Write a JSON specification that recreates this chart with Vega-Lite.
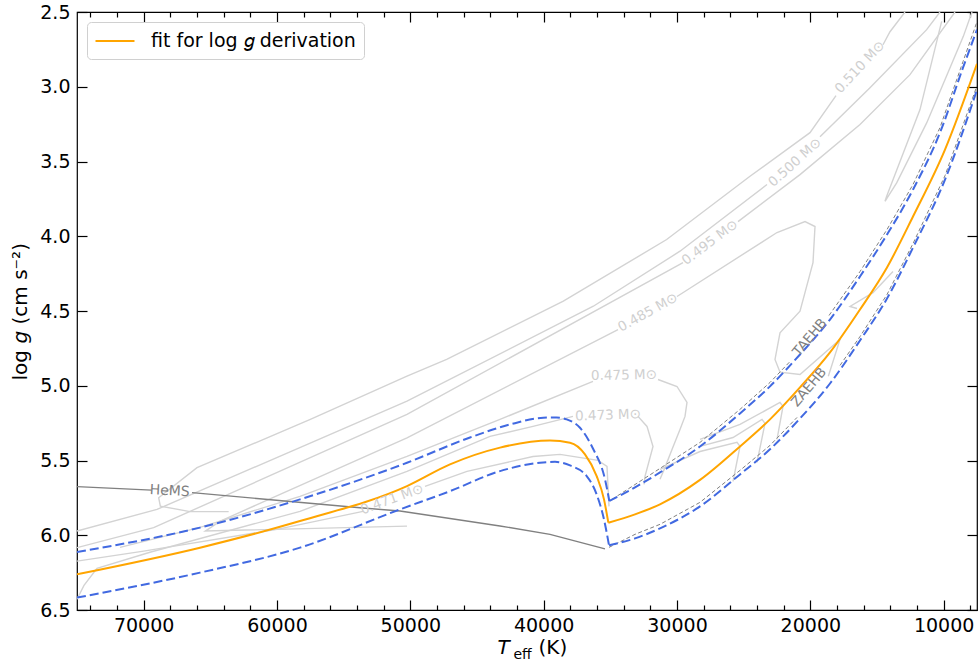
{
  "$schema": "https://vega.github.io/schema/vega-lite/v6.json",
  "width": 900,
  "height": 598,
  "autosize": {"type": "none"},
  "padding": {"left": 77, "top": 12, "right": 1, "bottom": 58},
  "background": "white",
  "config": {
    "font": "DejaVu Sans",
    "view": {"stroke": "black", "strokeWidth": 1.2},
    "axis": {"grid": false, "domain": false, "tickColor": "black", "tickWidth": 1.2, "labelColor": "black", "titleColor": "black", "labelFont": "DejaVu Sans", "titleFont": "DejaVu Sans", "labelFontSize": 19, "titleFontSize": 20, "titleFontWeight": "normal", "labelOverlap": false, "labelFlush": false}
  },
  "datasets": {
    "tracks": [
      {"seg": "510a", "Teff": 63625, "logg": 5.842}, {"seg": "510a", "Teff": 66525, "logg": 5.842}, {"seg": "510a", "Teff": 68750, "logg": 5.805}, {"seg": "510a", "Teff": 68875, "logg": 5.749}, {"seg": "510a", "Teff": 66000, "logg": 5.548}, {"seg": "510a", "Teff": 57500, "logg": 5.225}, {"seg": "510a", "Teff": 50250, "logg": 4.936}, {"seg": "510a", "Teff": 47275, "logg": 4.824}, {"seg": "510a", "Teff": 38525, "logg": 4.434}, {"seg": "510a", "Teff": 30775, "logg": 4.022}, {"seg": "510a", "Teff": 24525, "logg": 3.599}, {"seg": "510a", "Teff": 20025, "logg": 3.307}, {"seg": "510a", "Teff": 18075, "logg": 3.059},
      {"seg": "510b", "Teff": 14550, "logg": 2.719}, {"seg": "510b", "Teff": 14025, "logg": 2.632}, {"seg": "510b", "Teff": 12900, "logg": 2.5},
      {"seg": "500a", "Teff": 75000, "logg": 5.972}, {"seg": "500a", "Teff": 69000, "logg": 5.827}, {"seg": "500a", "Teff": 50250, "logg": 5.103}, {"seg": "500a", "Teff": 36275, "logg": 4.468}, {"seg": "500a", "Teff": 29775, "logg": 4.1}, {"seg": "500a", "Teff": 23250, "logg": 3.654},
      {"seg": "500b", "Teff": 19275, "logg": 3.334}, {"seg": "500b", "Teff": 15525, "logg": 3.006}, {"seg": "500b", "Teff": 11275, "logg": 2.618}, {"seg": "500b", "Teff": 10275, "logg": 2.5},
      {"seg": "495a", "Teff": 75000, "logg": 6.083}, {"seg": "495a", "Teff": 69250, "logg": 5.949}, {"seg": "495a", "Teff": 50250, "logg": 5.192}, {"seg": "495a", "Teff": 29550, "logg": 4.176},
      {"seg": "495b", "Teff": 25425, "logg": 3.902}, {"seg": "495b", "Teff": 20775, "logg": 3.588}, {"seg": "495b", "Teff": 16275, "logg": 3.253}, {"seg": "495b", "Teff": 12525, "logg": 2.919}, {"seg": "495b", "Teff": 9150, "logg": 2.5},
      {"seg": "485a", "Teff": 18650, "logg": 4.936}, {"seg": "485a", "Teff": 17775, "logg": 4.691}, {"seg": "485a", "Teff": 20775, "logg": 4.925}, {"seg": "485a", "Teff": 22275, "logg": 4.909}, {"seg": "485a", "Teff": 22650, "logg": 4.824}, {"seg": "485a", "Teff": 22275, "logg": 4.646}, {"seg": "485a", "Teff": 20775, "logg": 4.501}, {"seg": "485a", "Teff": 19800, "logg": 4.176}, {"seg": "485a", "Teff": 19650, "logg": 3.935}, {"seg": "485a", "Teff": 20400, "logg": 3.902}, {"seg": "485a", "Teff": 22500, "logg": 3.975}, {"seg": "485a", "Teff": 30000, "logg": 4.403},
      {"seg": "485b", "Teff": 34425, "logg": 4.624}, {"seg": "485b", "Teff": 50250, "logg": 5.348}, {"seg": "485b", "Teff": 64250, "logg": 5.905}, {"seg": "485b", "Teff": 65375, "logg": 5.972}, {"seg": "485b", "Teff": 50250, "logg": 5.939},
      {"seg": "475a", "Teff": 71775, "logg": 6.081}, {"seg": "475a", "Teff": 65775, "logg": 5.947}, {"seg": "475a", "Teff": 58275, "logg": 5.74}, {"seg": "475a", "Teff": 50250, "logg": 5.473}, {"seg": "475a", "Teff": 43275, "logg": 5.225}, {"seg": "475a", "Teff": 36300, "logg": 4.971},
      {"seg": "475b", "Teff": 31425, "logg": 4.958}, {"seg": "475b", "Teff": 30000, "logg": 5.005}, {"seg": "475b", "Teff": 29250, "logg": 5.111}, {"seg": "475b", "Teff": 29400, "logg": 5.205}, {"seg": "475b", "Teff": 29775, "logg": 5.292}, {"seg": "475b", "Teff": 30375, "logg": 5.426}, {"seg": "475b", "Teff": 30900, "logg": 5.546}, {"seg": "475b", "Teff": 31275, "logg": 5.626},
      {"seg": "473a", "Teff": 75000, "logg": 6.428}, {"seg": "473a", "Teff": 74475, "logg": 6.335}, {"seg": "473a", "Teff": 73500, "logg": 6.221}, {"seg": "473a", "Teff": 69525, "logg": 6.114}, {"seg": "473a", "Teff": 58275, "logg": 5.84}, {"seg": "473a", "Teff": 50250, "logg": 5.573}, {"seg": "473a", "Teff": 44025, "logg": 5.339}, {"seg": "473a", "Teff": 40800, "logg": 5.272}, {"seg": "473a", "Teff": 37800, "logg": 5.205},
      {"seg": "473b", "Teff": 32925, "logg": 5.205}, {"seg": "473b", "Teff": 32250, "logg": 5.272}, {"seg": "473b", "Teff": 31800, "logg": 5.406}, {"seg": "473b", "Teff": 32400, "logg": 5.606}, {"seg": "473b", "Teff": 32475, "logg": 5.66},
      {"seg": "471a", "Teff": 75000, "logg": 6.173}, {"seg": "471a", "Teff": 70000, "logg": 6.106}, {"seg": "471a", "Teff": 60000, "logg": 5.961}, {"seg": "471a", "Teff": 53550, "logg": 5.84},
      {"seg": "471b", "Teff": 48900, "logg": 5.673}, {"seg": "471b", "Teff": 45750, "logg": 5.573}, {"seg": "471b", "Teff": 40800, "logg": 5.473}, {"seg": "471b", "Teff": 38775, "logg": 5.459}, {"seg": "471b", "Teff": 35925, "logg": 5.499}, {"seg": "471b", "Teff": 35250, "logg": 5.54}, {"seg": "471b", "Teff": 35100, "logg": 5.807},
      {"seg": "loop", "Teff": 10150, "logg": 2.563}, {"seg": "loop", "Teff": 11775, "logg": 3.153}, {"seg": "loop", "Teff": 14275, "logg": 3.733}, {"seg": "loop", "Teff": 14400, "logg": 3.766}, {"seg": "loop", "Teff": 13525, "logg": 3.643}, {"seg": "loop", "Teff": 11275, "logg": 3.242}, {"seg": "loop", "Teff": 8525, "logg": 2.663}, {"seg": "loop", "Teff": 7875, "logg": 2.5},
      {"seg": "h1", "Teff": 25800, "logg": 5.64}, {"seg": "h1", "Teff": 25275, "logg": 5.406}, {"seg": "h1", "Teff": 25500, "logg": 5.379}, {"seg": "h1", "Teff": 28275, "logg": 5.44}, {"seg": "h1", "Teff": 31275, "logg": 5.559},
      {"seg": "h2", "Teff": 24000, "logg": 5.513}, {"seg": "h2", "Teff": 23400, "logg": 5.252}, {"seg": "h2", "Teff": 23625, "logg": 5.225}, {"seg": "h2", "Teff": 25800, "logg": 5.346}, {"seg": "h2", "Teff": 28275, "logg": 5.406},
      {"seg": "h3", "Teff": 22500, "logg": 5.359}, {"seg": "h3", "Teff": 22050, "logg": 5.138}, {"seg": "h3", "Teff": 22275, "logg": 5.112}, {"seg": "h3", "Teff": 25275, "logg": 5.259}, {"seg": "h3", "Teff": 28275, "logg": 5.359},
      {"seg": "h4", "Teff": 13800, "logg": 4.236}, {"seg": "h4", "Teff": 15300, "logg": 4.377}, {"seg": "h4", "Teff": 17025, "logg": 4.47}, {"seg": "h4", "Teff": 16500, "logg": 4.483}
    ],
    "hems": [
      {"seg": "a", "Teff": 75000, "logg": 5.675}, {"seg": "a", "Teff": 69400, "logg": 5.698},
      {"seg": "b", "Teff": 66375, "logg": 5.715}, {"seg": "b", "Teff": 53775, "logg": 5.816}, {"seg": "b", "Teff": 50775, "logg": 5.838}, {"seg": "b", "Teff": 43275, "logg": 5.938}, {"seg": "b", "Teff": 39525, "logg": 5.994}, {"seg": "b", "Teff": 35400, "logg": 6.091}
    ],
    "ehb": [
      {"seg": "TAEHBa", "Teff": 34875, "logg": 5.76}, {"seg": "TAEHBa", "Teff": 31275, "logg": 5.553}, {"seg": "TAEHBa", "Teff": 28275, "logg": 5.379}, {"seg": "TAEHBa", "Teff": 25275, "logg": 5.158}, {"seg": "TAEHBa", "Teff": 23025, "logg": 4.978}, {"seg": "TAEHBa", "Teff": 21450, "logg": 4.831},
      {"seg": "TAEHBb", "Teff": 18600, "logg": 4.53}, {"seg": "TAEHBb", "Teff": 16275, "logg": 4.236}, {"seg": "TAEHBb", "Teff": 14250, "logg": 3.955}, {"seg": "TAEHBb", "Teff": 12300, "logg": 3.654}, {"seg": "TAEHBb", "Teff": 10275, "logg": 3.273}, {"seg": "TAEHBb", "Teff": 8550, "logg": 2.832}, {"seg": "TAEHBb", "Teff": 7500, "logg": 2.565},
      {"seg": "ZAEHBa", "Teff": 35100, "logg": 6.081}, {"seg": "ZAEHBa", "Teff": 33150, "logg": 5.994}, {"seg": "ZAEHBa", "Teff": 31275, "logg": 5.927}, {"seg": "ZAEHBa", "Teff": 28275, "logg": 5.78}, {"seg": "ZAEHBa", "Teff": 25275, "logg": 5.566}, {"seg": "ZAEHBa", "Teff": 23025, "logg": 5.399}, {"seg": "ZAEHBa", "Teff": 21000, "logg": 5.212},
      {"seg": "ZAEHBb", "Teff": 17775, "logg": 4.864}, {"seg": "ZAEHBb", "Teff": 16275, "logg": 4.671}, {"seg": "ZAEHBb", "Teff": 14250, "logg": 4.39}, {"seg": "ZAEHBb", "Teff": 12300, "logg": 4.049}, {"seg": "ZAEHBb", "Teff": 9900, "logg": 3.595}, {"seg": "ZAEHBb", "Teff": 7500, "logg": 2.993}
    ],
    "bounds": [
      {"seg": "upperL", "Teff": 75000, "logg": 6.112}, {"seg": "upperL", "Teff": 65775, "logg": 5.949}, {"seg": "upperL", "Teff": 58275, "logg": 5.76}, {"seg": "upperL", "Teff": 50250, "logg": 5.515}, {"seg": "upperL", "Teff": 45525, "logg": 5.346}, {"seg": "upperL", "Teff": 42525, "logg": 5.259}, {"seg": "upperL", "Teff": 40025, "logg": 5.214}, {"seg": "upperL", "Teff": 39025, "logg": 5.212}, {"seg": "upperL", "Teff": 38275, "logg": 5.225}, {"seg": "upperL", "Teff": 37275, "logg": 5.281}, {"seg": "upperL", "Teff": 36275, "logg": 5.425}, {"seg": "upperL", "Teff": 35400, "logg": 5.626}, {"seg": "upperL", "Teff": 35075, "logg": 5.771},
      {"seg": "upperR", "Teff": 35075, "logg": 5.771}, {"seg": "upperR", "Teff": 33150, "logg": 5.68}, {"seg": "upperR", "Teff": 31275, "logg": 5.58}, {"seg": "upperR", "Teff": 28275, "logg": 5.406}, {"seg": "upperR", "Teff": 25275, "logg": 5.185}, {"seg": "upperR", "Teff": 23025, "logg": 5.004}, {"seg": "upperR", "Teff": 20775, "logg": 4.791}, {"seg": "upperR", "Teff": 18525, "logg": 4.557}, {"seg": "upperR", "Teff": 16275, "logg": 4.269}, {"seg": "upperR", "Teff": 14250, "logg": 3.989}, {"seg": "upperR", "Teff": 12300, "logg": 3.688}, {"seg": "upperR", "Teff": 10275, "logg": 3.307}, {"seg": "upperR", "Teff": 8550, "logg": 2.872}, {"seg": "upperR", "Teff": 7500, "logg": 2.618},
      {"seg": "lowerL", "Teff": 75000, "logg": 6.417}, {"seg": "lowerL", "Teff": 65775, "logg": 6.25}, {"seg": "lowerL", "Teff": 58275, "logg": 6.083}, {"seg": "lowerL", "Teff": 50775, "logg": 5.827}, {"seg": "lowerL", "Teff": 47025, "logg": 5.705}, {"seg": "lowerL", "Teff": 43275, "logg": 5.571}, {"seg": "lowerL", "Teff": 40275, "logg": 5.515}, {"seg": "lowerL", "Teff": 39150, "logg": 5.509}, {"seg": "lowerL", "Teff": 38025, "logg": 5.533}, {"seg": "lowerL", "Teff": 36775, "logg": 5.604}, {"seg": "lowerL", "Teff": 36025, "logg": 5.727}, {"seg": "lowerL", "Teff": 35475, "logg": 5.894}, {"seg": "lowerL", "Teff": 35100, "logg": 6.067},
      {"seg": "lowerR", "Teff": 35100, "logg": 6.067}, {"seg": "lowerR", "Teff": 33150, "logg": 6.021}, {"seg": "lowerR", "Teff": 31275, "logg": 5.954}, {"seg": "lowerR", "Teff": 28275, "logg": 5.807}, {"seg": "lowerR", "Teff": 25275, "logg": 5.593}, {"seg": "lowerR", "Teff": 23025, "logg": 5.425}, {"seg": "lowerR", "Teff": 20775, "logg": 5.219}, {"seg": "lowerR", "Teff": 18525, "logg": 4.985}, {"seg": "lowerR", "Teff": 16275, "logg": 4.697}, {"seg": "lowerR", "Teff": 14250, "logg": 4.417}, {"seg": "lowerR", "Teff": 12300, "logg": 4.076}, {"seg": "lowerR", "Teff": 9900, "logg": 3.621}, {"seg": "lowerR", "Teff": 7500, "logg": 3.02}
    ],
    "fit": [
      {"seg": "L", "Teff": 75000, "logg": 6.261}, {"seg": "L", "Teff": 65775, "logg": 6.083}, {"seg": "L", "Teff": 58275, "logg": 5.905}, {"seg": "L", "Teff": 50250, "logg": 5.671}, {"seg": "L", "Teff": 47025, "logg": 5.526}, {"seg": "L", "Teff": 43275, "logg": 5.414}, {"seg": "L", "Teff": 39525, "logg": 5.366}, {"seg": "L", "Teff": 38025, "logg": 5.381}, {"seg": "L", "Teff": 36900, "logg": 5.459}, {"seg": "L", "Teff": 36025, "logg": 5.604}, {"seg": "L", "Teff": 35475, "logg": 5.76}, {"seg": "L", "Teff": 35150, "logg": 5.916},
      {"seg": "R", "Teff": 35150, "logg": 5.916}, {"seg": "R", "Teff": 33150, "logg": 5.86}, {"seg": "R", "Teff": 31275, "logg": 5.793}, {"seg": "R", "Teff": 28275, "logg": 5.63}, {"seg": "R", "Teff": 25275, "logg": 5.406}, {"seg": "R", "Teff": 23025, "logg": 5.225}, {"seg": "R", "Teff": 20775, "logg": 5.011}, {"seg": "R", "Teff": 18525, "logg": 4.777}, {"seg": "R", "Teff": 16275, "logg": 4.49}, {"seg": "R", "Teff": 14250, "logg": 4.209}, {"seg": "R", "Teff": 12300, "logg": 3.868}, {"seg": "R", "Teff": 9900, "logg": 3.42}, {"seg": "R", "Teff": 7500, "logg": 2.846}
    ],
    "labels": [
      {"id": "m510", "label": "0.510 M⊙", "Teff": 16275, "logg": 2.869},
      {"id": "m500", "label": "0.500 M⊙", "Teff": 21150, "logg": 3.507},
      {"id": "m495", "label": "0.495 M⊙", "Teff": 27525, "logg": 4.042},
      {"id": "m485", "label": "0.485 M⊙", "Teff": 32175, "logg": 4.51},
      {"id": "m475", "label": "0.475 M⊙", "Teff": 33975, "logg": 4.931},
      {"id": "m473", "label": "0.473 M⊙", "Teff": 35175, "logg": 5.198},
      {"id": "m471", "label": "0.471 M⊙", "Teff": 51375, "logg": 5.76},
      {"id": "hems", "label": "HeMS", "Teff": 68050, "logg": 5.705},
      {"id": "taehb", "label": "TAEHB", "Teff": 20025, "logg": 4.677},
      {"id": "zaehb", "label": "ZAEHB", "Teff": 20100, "logg": 5.01}
    ]
  },
  "layer": [
    {
      "data": {"name": "tracks"},
      "mark": {"type": "line", "stroke": "#d3d3d3", "strokeWidth": 1.4, "clip": true},
      "encoding": {
        "x": {"field": "Teff", "type": "quantitative", "scale": {"domain": [7500, 75000], "reverse": true, "nice": false, "zero": false},
          "axis": {"orient": "bottom", "values": [10000, 20000, 30000, 40000, 50000, 60000, 70000], "format": "d", "tickSize": -10, "labelPadding": 16, "title": "T", "titleFontStyle": "italic", "titleX": 420, "titleY": 43, "titleAlign": "left", "titleBaseline": "alphabetic", "titleAngle": 0}},
        "y": {"field": "logg", "type": "quantitative", "scale": {"domain": [2.5, 6.5], "reverse": true, "nice": false, "zero": false},
          "axis": {"orient": "left", "values": [2.5, 3, 3.5, 4, 4.5, 5, 5.5, 6, 6.5], "format": ".1f", "tickSize": -10, "labelPadding": 17, "title": "log", "titleAngle": 270, "titleX": -51, "titleY": 368, "titleAlign": "left", "titleBaseline": "alphabetic"}},
        "detail": {"field": "seg", "type": "nominal"},
        "order": {"value": null}
      }
    },
    {
      "data": {"name": "hems"},
      "mark": {"type": "line", "stroke": "#808080", "strokeWidth": 1.4, "clip": true},
      "encoding": {
        "x": {"field": "Teff", "type": "quantitative", "scale": {"domain": [7500, 75000], "reverse": true, "nice": false, "zero": false},
          "axis": {"orient": "top", "values": [10000, 20000, 30000, 40000, 50000, 60000, 70000], "tickSize": -10, "labels": false, "title": null}},
        "y": {"field": "logg", "type": "quantitative", "scale": {"domain": [2.5, 6.5], "reverse": true, "nice": false, "zero": false},
          "axis": {"orient": "right", "values": [2.5, 3, 3.5, 4, 4.5, 5, 5.5, 6, 6.5], "tickSize": -10, "labels": false, "title": null}},
        "detail": {"field": "seg", "type": "nominal"},
        "order": {"value": null}
      }
    },
    {
      "data": {"name": "ehb"},
      "mark": {"type": "line", "stroke": "#808080", "strokeWidth": 1, "strokeDash": [4, 2.5], "clip": true},
      "encoding": {
        "x": {"field": "Teff", "type": "quantitative", "scale": {"domain": [7500, 75000], "reverse": true, "nice": false, "zero": false},
          "axis": {"orient": "bottom", "values": [8000, 12000, 14000, 16000, 18000, 22000, 24000, 26000, 28000, 32000, 34000, 36000, 38000, 42000, 44000, 46000, 48000, 52000, 54000, 56000, 58000, 62000, 64000, 66000, 68000, 72000, 74000], "tickSize": -5, "labels": false, "title": "eff", "titleFontSize": 14, "titleX": 436, "titleY": 48.5, "titleAlign": "left", "titleBaseline": "alphabetic", "titleAngle": 0}},
        "y": {"field": "logg", "type": "quantitative", "scale": {"domain": [2.5, 6.5], "reverse": true, "nice": false, "zero": false},
          "axis": {"orient": "left", "ticks": false, "labels": false, "title": "g", "titleFontStyle": "italic", "titleAngle": 270, "titleX": -51, "titleY": 331, "titleAlign": "left", "titleBaseline": "alphabetic"}},
        "detail": {"field": "seg", "type": "nominal"},
        "order": {"value": null}
      }
    },
    {
      "data": {"name": "bounds"},
      "mark": {"type": "line", "stroke": "#4169e1", "strokeWidth": 2, "strokeDash": [9, 4], "interpolate": "monotone", "clip": true},
      "encoding": {
        "x": {"field": "Teff", "type": "quantitative", "scale": {"domain": [7500, 75000], "reverse": true, "nice": false, "zero": false},
          "axis": {"orient": "top", "values": [8000, 12000, 14000, 16000, 18000, 22000, 24000, 26000, 28000, 32000, 34000, 36000, 38000, 42000, 44000, 46000, 48000, 52000, 54000, 56000, 58000, 62000, 64000, 66000, 68000, 72000, 74000], "tickSize": -5, "labels": false, "title": null}},
        "y": {"field": "logg", "type": "quantitative", "scale": {"domain": [2.5, 6.5], "reverse": true, "nice": false, "zero": false},
          "axis": {"orient": "left", "ticks": false, "labels": false, "title": "(cm s⁻²)", "titleAngle": 270, "titleX": -51, "titleY": 312, "titleAlign": "left", "titleBaseline": "alphabetic"}},
        "detail": {"field": "seg", "type": "nominal"},
        "order": {"value": null}
      }
    },
    {
      "data": {"name": "fit"},
      "mark": {"type": "line", "strokeWidth": 2, "interpolate": "monotone", "clip": true},
      "encoding": {
        "x": {"field": "Teff", "type": "quantitative", "scale": {"domain": [7500, 75000], "reverse": true, "nice": false, "zero": false},
          "axis": {"orient": "bottom", "ticks": false, "labels": false, "title": "(K)", "titleX": 461, "titleY": 43, "titleAlign": "left", "titleBaseline": "alphabetic", "titleAngle": 0}},
        "y": {"field": "logg", "type": "quantitative", "scale": {"domain": [2.5, 6.5], "reverse": true, "nice": false, "zero": false}, "axis": null},
        "detail": {"field": "seg", "type": "nominal"},
        "color": {"datum": "fit for log 𝑔 derivation", "type": "nominal", "scale": {"range": ["#ffa500"]},
          "legend": {"orient": "top-left", "offset": 10, "title": null, "symbolType": "M-2,0H2", "symbolSize": 380, "symbolOffset": 9, "symbolStrokeWidth": 2, "labelFontSize": 19, "labelFont": "DejaVu Sans", "labelColor": "black", "labelLimit": 400, "strokeColor": "#d0d0d0", "fillColor": "white", "cornerRadius": 4, "padding": 8, "labelOffset": 25}},
        "order": {"value": null}
      }
    },
    {
      "data": {"name": "labels"},
      "transform": [{"filter": "datum.id === 'm510'"}],
      "mark": {"type": "text", "angle": 313, "fontSize": 13.5, "color": "#cfcfcf", "align": "center", "baseline": "middle"},
      "encoding": {"x": {"field": "Teff", "type": "quantitative", "axis": null}, "y": {"field": "logg", "type": "quantitative", "axis": null}, "text": {"field": "label"}}
    },
    {
      "data": {"name": "labels"},
      "transform": [{"filter": "datum.id === 'm500'"}],
      "mark": {"type": "text", "angle": 318, "fontSize": 13.5, "color": "#cfcfcf", "align": "center", "baseline": "middle"},
      "encoding": {"x": {"field": "Teff", "type": "quantitative", "axis": null}, "y": {"field": "logg", "type": "quantitative", "axis": null}, "text": {"field": "label"}}
    },
    {
      "data": {"name": "labels"},
      "transform": [{"filter": "datum.id === 'm495'"}],
      "mark": {"type": "text", "angle": 323, "fontSize": 13.5, "color": "#cfcfcf", "align": "center", "baseline": "middle"},
      "encoding": {"x": {"field": "Teff", "type": "quantitative", "axis": null}, "y": {"field": "logg", "type": "quantitative", "axis": null}, "text": {"field": "label"}}
    },
    {
      "data": {"name": "labels"},
      "transform": [{"filter": "datum.id === 'm485'"}],
      "mark": {"type": "text", "angle": 331, "fontSize": 13.5, "color": "#cfcfcf", "align": "center", "baseline": "middle"},
      "encoding": {"x": {"field": "Teff", "type": "quantitative", "axis": null}, "y": {"field": "logg", "type": "quantitative", "axis": null}, "text": {"field": "label"}}
    },
    {
      "data": {"name": "labels"},
      "transform": [{"filter": "datum.id === 'm475'"}],
      "mark": {"type": "text", "angle": 359, "fontSize": 13.5, "color": "#cfcfcf", "align": "center", "baseline": "middle"},
      "encoding": {"x": {"field": "Teff", "type": "quantitative", "axis": null}, "y": {"field": "logg", "type": "quantitative", "axis": null}, "text": {"field": "label"}}
    },
    {
      "data": {"name": "labels"},
      "transform": [{"filter": "datum.id === 'm473'"}],
      "mark": {"type": "text", "angle": 358, "fontSize": 13.5, "color": "#cfcfcf", "align": "center", "baseline": "middle"},
      "encoding": {"x": {"field": "Teff", "type": "quantitative", "axis": null}, "y": {"field": "logg", "type": "quantitative", "axis": null}, "text": {"field": "label"}}
    },
    {
      "data": {"name": "labels"},
      "transform": [{"filter": "datum.id === 'm471'"}],
      "mark": {"type": "text", "angle": 340, "fontSize": 13.5, "color": "#cfcfcf", "align": "center", "baseline": "middle"},
      "encoding": {"x": {"field": "Teff", "type": "quantitative", "axis": null}, "y": {"field": "logg", "type": "quantitative", "axis": null}, "text": {"field": "label"}}
    },
    {
      "data": {"name": "labels"},
      "transform": [{"filter": "datum.id === 'hems'"}],
      "mark": {"type": "text", "angle": 3, "fontSize": 14, "color": "#808080", "align": "center", "baseline": "middle"},
      "encoding": {"x": {"field": "Teff", "type": "quantitative", "axis": null}, "y": {"field": "logg", "type": "quantitative", "axis": null}, "text": {"field": "label"}}
    },
    {
      "data": {"name": "labels"},
      "transform": [{"filter": "datum.id === 'taehb'"}],
      "mark": {"type": "text", "angle": 310, "fontSize": 13.5, "color": "#808080", "align": "center", "baseline": "middle"},
      "encoding": {"x": {"field": "Teff", "type": "quantitative", "axis": null}, "y": {"field": "logg", "type": "quantitative", "axis": null}, "text": {"field": "label"}}
    },
    {
      "data": {"name": "labels"},
      "transform": [{"filter": "datum.id === 'zaehb'"}],
      "mark": {"type": "text", "angle": 310, "fontSize": 13.5, "color": "#808080", "align": "center", "baseline": "middle"},
      "encoding": {"x": {"field": "Teff", "type": "quantitative", "axis": null}, "y": {"field": "logg", "type": "quantitative", "axis": null}, "text": {"field": "label"}}
    }
  ],
  "resolve": {"axis": {"x": "independent", "y": "independent"}}
}
